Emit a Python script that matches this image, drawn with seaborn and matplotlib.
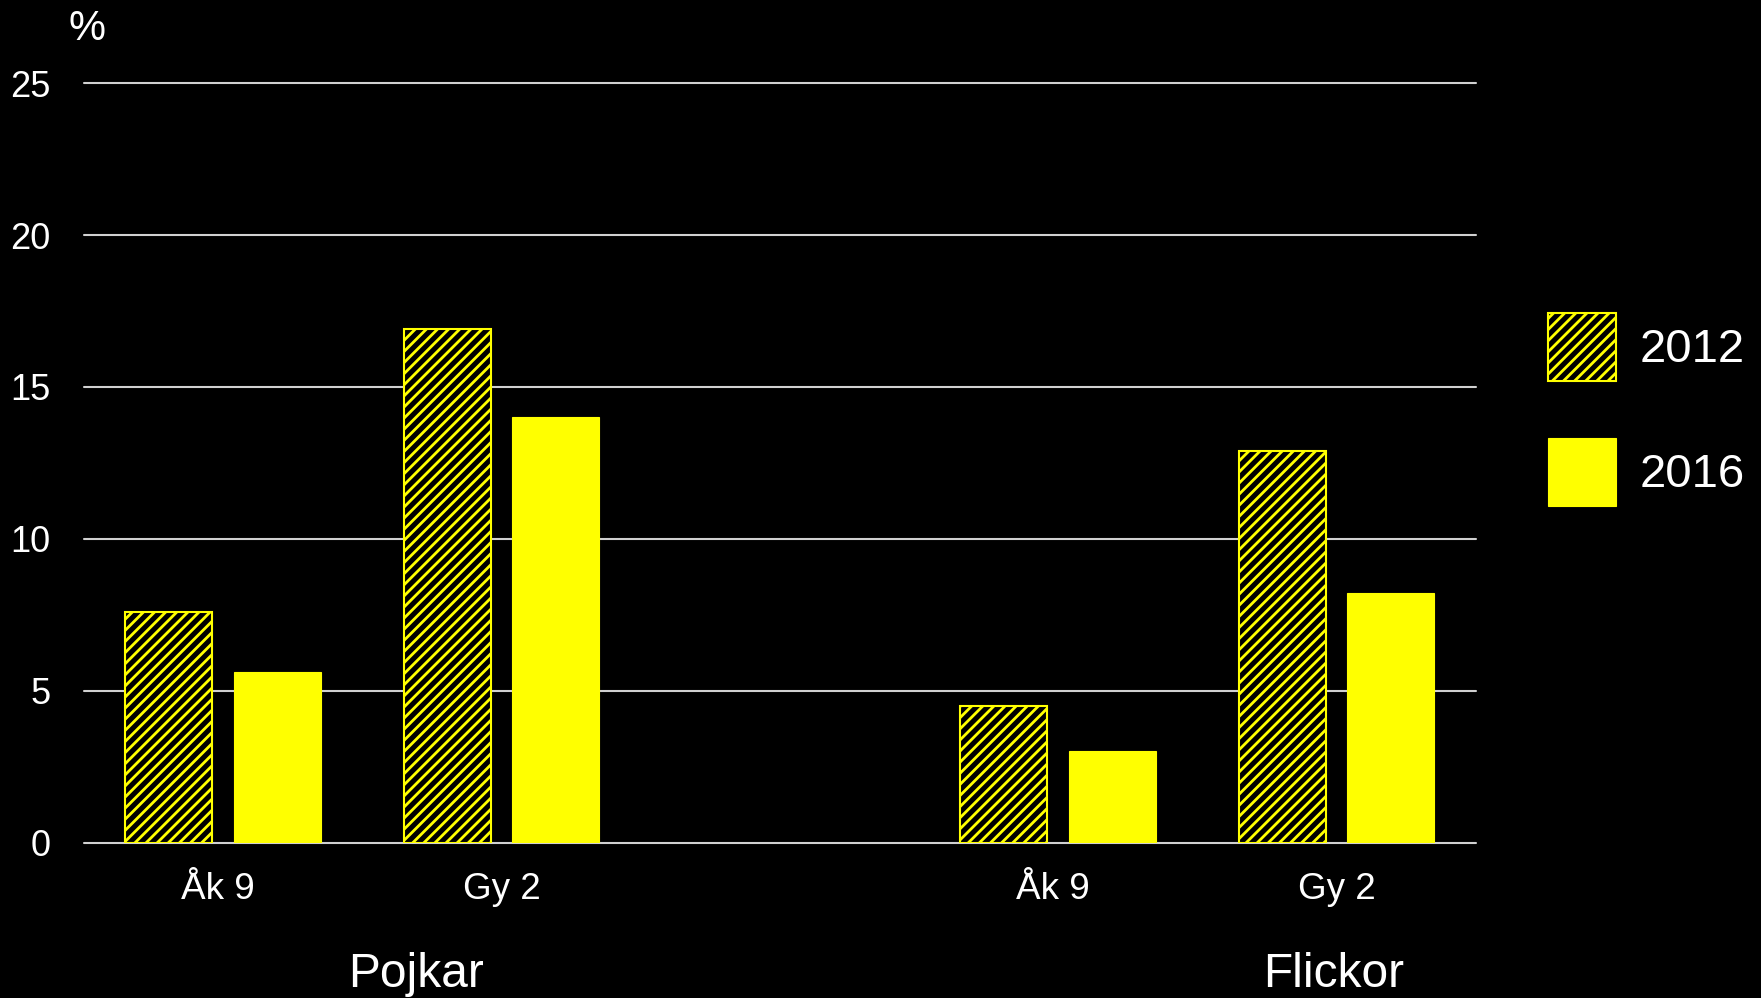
import matplotlib
matplotlib.use("Agg")
import matplotlib.pyplot as plt
import matplotlib.transforms as mtransforms
from matplotlib.patches import Patch
import seaborn as sns
import pandas as pd

# ---- data ----
categories = ["Pojkar Åk 9", "Pojkar Gy 2", "Flickor Åk 9", "Flickor Gy 2"]
tick_labels = ["Åk 9", "Gy 2", "Åk 9", "Gy 2"]
groups = ["Pojkar", "Flickor"]
years = ["2012", "2016"]
values_2012 = [7.6, 16.9, 4.5, 12.9]
values_2016 = [5.6, 14.0, 3.0, 8.2]
y_ticks = [0, 5, 10, 15, 20, 25]

df = pd.DataFrame({
    "cat": categories * 2,
    "year": [years[0]] * 4 + [years[1]] * 4,
    "value": values_2012 + values_2016,
})

YELLOW = "#FFFF00"
sns.set_style("white")
plt.rcParams["font.family"] = ["Liberation Sans", "DejaVu Sans"]
plt.rcParams["hatch.linewidth"] = 2.0
plt.rcParams["hatch.color"] = YELLOW

fig = plt.figure(figsize=(17.61, 9.98), dpi=100, facecolor="black")
ax = fig.add_axes([84 / 1761, 1 - 842.5 / 998, (1475.7 - 84) / 1761, (842.5 - 83.2) / 998])
ax.set_facecolor("black")

order = categories[:2] + [" "] + categories[2:]
sns.barplot(data=df, x="cat", y="value", hue="year", order=order, hue_order=years,
            palette={"2012": "black", "2016": YELLOW}, width=0.78, gap=0.2,
            legend=False, ax=ax, zorder=3, saturation=1)

for bar in ax.containers[0]:
    bar.set_facecolor("black")
    bar.set_edgecolor(YELLOW)
    bar.set_hatch("///")
    bar.set_linewidth(1.5)
for bar in ax.containers[1]:
    bar.set_facecolor(YELLOW)
    bar.set_edgecolor(YELLOW)
    bar.set_linewidth(0.8)

ax.set_xlim(-0.5, 4.5)
ax.set_ylim(0, 25)
ax.set_yticks(y_ticks)
ax.set_xticks([0, 1, 3, 4])
ax.set_xticklabels(tick_labels)
ax.tick_params(axis="y", labelsize=26, colors="white", length=0, pad=24)
ax.tick_params(axis="x", labelsize=26.5, colors="white", length=0, pad=21)
shift = mtransforms.ScaledTranslation(-5 / 100, 0, fig.dpi_scale_trans)
for lbl in ax.get_xticklabels():
    if lbl.get_text().startswith("Åk"):
        lbl.set_transform(lbl.get_transform() + shift)
ax.set_xlabel("")
ax.set_ylabel("")
for s in ax.spines.values():
    s.set_visible(False)
ax.yaxis.grid(True, color="#d0d0d0", linewidth=1.5, zorder=0)
ax.xaxis.grid(False)
ax.set_axisbelow(True)
for gl in ax.get_ygridlines():
    gl.set_clip_on(False)

# group labels
for g, xpos in zip(groups, [0.693, 3.988]):
    ax.text(xpos, -0.19, g, transform=ax.get_xaxis_transform(), ha="center",
            va="baseline", color="white", fontsize=34.5)

fig.text(87 / 1761, 1 - 29 / 998, "%", color="white", fontsize=30, ha="center", va="center")

handles = [Patch(facecolor="black", edgecolor=YELLOW, hatch="///", linewidth=1.5),
           Patch(facecolor=YELLOW, edgecolor=YELLOW, linewidth=0.8)]
leg = fig.legend(handles, years, loc="upper left", bbox_to_anchor=(1548 / 1761, 1 - 313 / 998),
                 bbox_transform=fig.transFigure, frameon=False, fontsize=34,
                 handlelength=1.44, handleheight=1.84, labelspacing=1.2,
                 handletextpad=0.5, borderpad=0, borderaxespad=0)
for t in leg.get_texts():
    t.set_color("white")

fig.savefig("out.png", dpi=100, facecolor="black")
